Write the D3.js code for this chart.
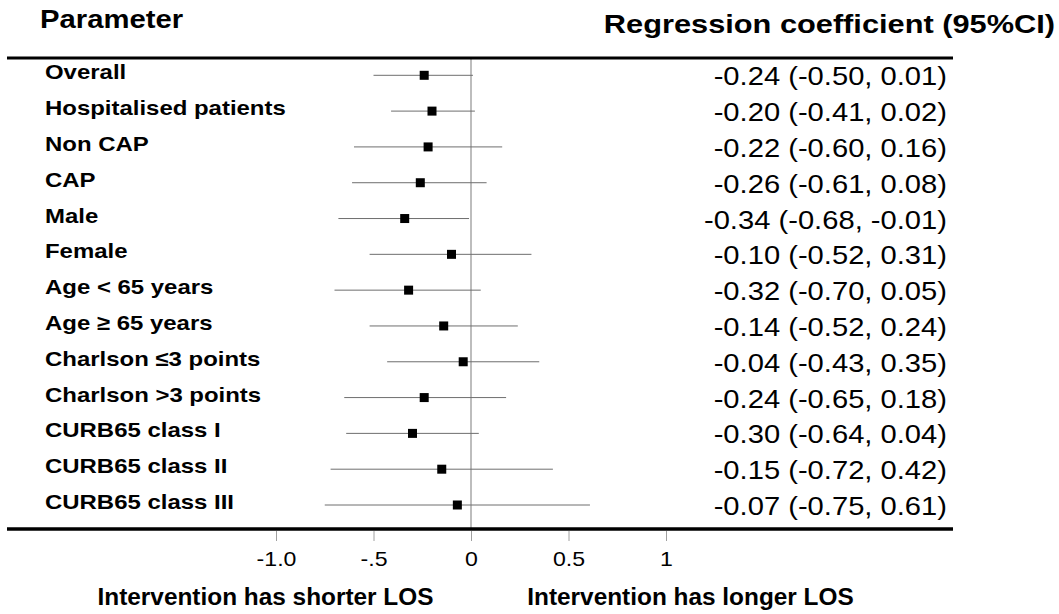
<!DOCTYPE html>
<html><head><meta charset="utf-8">
<script src="https://cdn.jsdelivr.net/npm/d3@7"></script>
<style>body{margin:0;background:#fff}svg{display:block}text{font-family:"Liberation Sans",Arial,sans-serif}</style>
</head><body>
<script>
const parameters = ["Overall","Hospitalised patients","Non CAP","CAP","Male","Female","Age < 65 years","Age \u2265 65 years","Charlson \u22643 points","Charlson >3 points","CURB65 class I","CURB65 class II","CURB65 class III"];
const estimates = [-0.24,-0.20,-0.22,-0.26,-0.34,-0.10,-0.32,-0.14,-0.04,-0.24,-0.30,-0.15,-0.07];
const lower = [-0.50,-0.41,-0.60,-0.61,-0.68,-0.52,-0.70,-0.52,-0.43,-0.65,-0.64,-0.72,-0.75];
const upper = [0.01,0.02,0.16,0.08,-0.01,0.31,0.05,0.24,0.35,0.18,0.04,0.42,0.61];
const tickValues = [-1,-0.5,0,0.5,1];
const tickLabels = ["-1.0","-.5","0","0.5","1"];

const W=1059,H=614;
const svg=d3.select("body").append("svg").attr("width",W).attr("height",H);
const x=d3.scaleLinear().domain([-1,1]).range([276,666]);
const y=d3.scalePoint().domain(parameters).range([75.3,505]);
const fmt=v=>v.toFixed(2);

// horizontally stretch text to mimic the wide rendering of the original
function stretch(sel,k){
  sel.each(function(){
    const w=this.getComputedTextLength();
    d3.select(this).attr("textLength",w*k).attr("lengthAdjust","spacingAndGlyphs");
  });
}

svg.append("text").attr("x",40).attr("y",28).attr("font-size",25).attr("font-weight","bold").text("Parameter").call(stretch,1.17);
svg.append("text").attr("x",1055).attr("y",33).attr("text-anchor","end").attr("font-size",25).attr("font-weight","bold").text("Regression coefficient (95%CI)").call(stretch,1.23);

// zero line
svg.append("line").attr("x1",x(0)).attr("x2",x(0)).attr("y1",58).attr("y2",529).attr("stroke","#bdbdbd").attr("stroke-width",2);

const rows=svg.append("g").selectAll("g").data(parameters).join("g");
rows.append("text").attr("x",45).attr("y",d=>y(d)+4).attr("font-size",21).attr("font-weight","bold").text(d=>d).call(stretch,1.14);
rows.append("line").attr("x1",(d,i)=>x(lower[i])).attr("x2",(d,i)=>x(upper[i])).attr("y1",d=>y(d)).attr("y2",d=>y(d)).attr("stroke","#6e6e6e").attr("stroke-width",1);
rows.append("rect").attr("x",(d,i)=>x(estimates[i])-4.5).attr("y",d=>y(d)-4.5).attr("width",9).attr("height",9).attr("fill","#000");
rows.append("text").attr("x",947).attr("y",d=>y(d)+10).attr("text-anchor","end").attr("font-size",26.5)
  .text((d,i)=>`${fmt(estimates[i])} (${fmt(lower[i])}, ${fmt(upper[i])})`).call(stretch,1.1);

svg.append("line").attr("x1",7).attr("x2",953).attr("y1",58).attr("y2",58).attr("stroke","#000").attr("stroke-width",3);
svg.append("line").attr("x1",7).attr("x2",953).attr("y1",529).attr("y2",529).attr("stroke","#000").attr("stroke-width",3.5);

const axis=d3.axisBottom(x).tickValues(tickValues).tickFormat((d,i)=>tickLabels[i]).tickSize(10).tickPadding(10);
const ag=svg.append("g").attr("transform","translate(0,531)").call(axis);
ag.select(".domain").remove();
ag.selectAll(".tick line").attr("stroke","#a0a0a0");
ag.selectAll(".tick text").attr("font-size",21).attr("fill","#000").attr("dy",null).attr("y",35)
  .style("font-family","Liberation Sans, Arial, sans-serif").call(stretch,1.1);

svg.append("text").attr("x",265.5).attr("y",605).attr("text-anchor","middle").attr("font-size",23).attr("font-weight","bold").text("Intervention has shorter LOS").call(stretch,1.06);
svg.append("text").attr("x",690.5).attr("y",605).attr("text-anchor","middle").attr("font-size",23).attr("font-weight","bold").text("Intervention has longer LOS").call(stretch,1.06);
</script>
</body></html>
